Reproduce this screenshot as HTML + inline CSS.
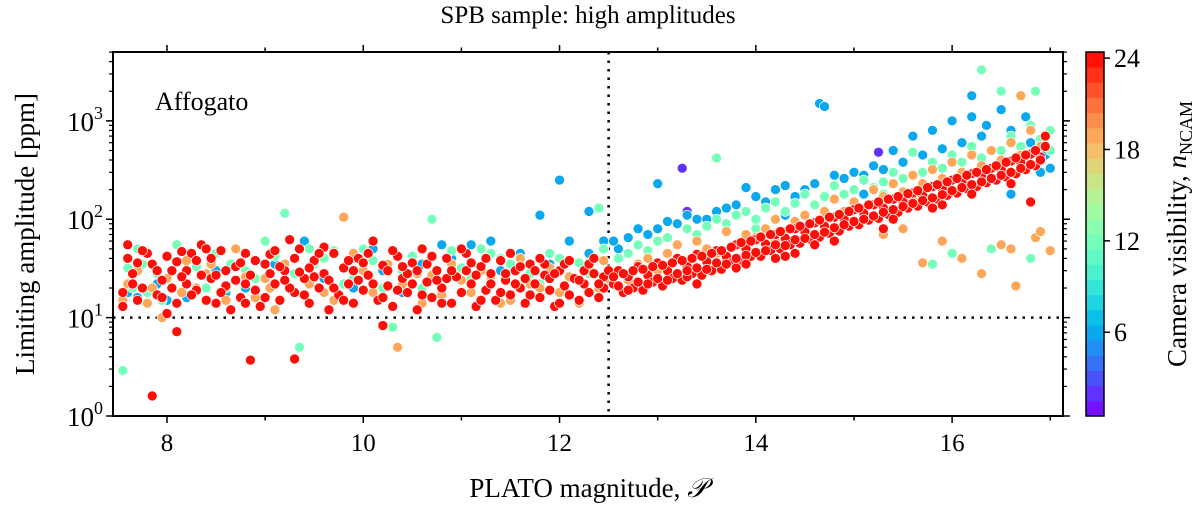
<!DOCTYPE html>
<html><head><meta charset="utf-8"><style>
html,body{margin:0;padding:0;background:#fff;}
svg{display:block;font-family:"Liberation Serif",serif;}
</style></head><body>
<svg id="chart" width="1200" height="511" viewBox="0 0 1200 511">
<text x="588" y="23" font-size="25" text-anchor="middle">SPB sample: high amplitudes</text>
<text x="588" y="497" font-size="27" text-anchor="middle">PLATO magnitude, <tspan font-style="italic">𝒫</tspan></text>
<text transform="translate(34,234) rotate(-90)" font-size="27" text-anchor="middle">Limiting amplitude [ppm]</text>
<text transform="translate(1186,234) rotate(-90)" font-size="27" text-anchor="middle">Camera visibility, <tspan font-style="italic">n</tspan><tspan font-size="18" dy="6">NCAM</tspan></text>
<text x="155" y="110" font-size="26">Affogato</text>
<g id="marks"></g>
<g id="axes"></g>
</svg>
<script>
const xTicks=[8,10,12,14,16];
const yTickExps=[0,1,2,3];
const cbTicks=[6,12,18,24];
const nCamLevels=[2,6,12,19,24];
const ptsPurple=[[13.25,330],[15.25,480],[13.3,120]];
const ptsBlue=[[7.7,16],[8.6,18],[9.4,60],[10.2,30],[10.8,55],[11.3,60],[11.8,110],[12.0,250],[12.3,120],[9.9,20],[8.0,15],
[12.6,50],[12.9,70],[13.0,230],[13.2,90],[13.5,100],[13.7,130],[13.9,210],[14.1,150],[14.4,170],[14.65,1500],[14.7,1400],[14.8,280],[15.0,300],[15.2,350],[15.4,500],[15.6,700],[15.8,800],[16.0,1000],[16.2,1800],[16.35,900],[16.5,1300],[16.75,1100],[16.9,300],[17.0,330],[16.6,180],[15.1,180],[14.3,110],
[7.6,18],[7.9,22],[8.2,16],[8.5,30],[8.8,20],[9.1,35],[9.3,18],[9.6,25],[9.9,40],[10.1,50],[10.4,18],[10.6,35],[10.9,40],[11.1,55],[11.4,30],[11.6,45],[11.9,35],[12.1,60],[12.3,45],[12.45,60],
[12.55,60],[12.7,65],[12.8,80],[13.0,80],[13.1,95],[13.3,110],[13.4,100],[13.6,120],[13.8,140],[14.0,170],[14.2,200],[14.3,220],[14.5,200],[14.6,230],[14.9,260],[15.1,280],[15.3,320],[15.5,380],[15.7,450],[15.9,520],[16.1,600],[16.3,700],[16.4,500],[16.6,800],[16.8,600],[16.95,450],[16.2,1100]];
const ptsGreen=[[7.55,2.9],[7.6,32],[7.7,50],[7.9,28],[8.1,55],[8.3,33],[8.5,45],[8.8,30],[9.0,60],[9.2,115],[9.35,5],[9.5,35],[9.7,48],[9.9,25],[10.1,38],[10.3,8],[10.5,42],[10.7,100],[10.75,6.3],[11.0,32],[11.2,50],[11.4,40],[11.7,28],[11.9,45],[12.2,36],[12.4,130],[7.8,18],[8.6,20],[10.2,20],
[12.7,45],[13.0,60],[13.3,80],[13.6,420],[13.6,100],[13.9,120],[14.2,150],[14.5,180],[14.8,220],[15.1,250],[15.4,300],[15.6,480],[15.8,380],[16.0,450],[16.2,550],[16.3,3300],[16.5,2000],[16.6,700],[16.8,900],[17.0,500],[16.4,50],[16.0,45],[15.8,35],[16.8,40],[14.0,80],[14.7,100],[15.3,180],
[7.65,20],[7.75,35],[7.95,15],[8.2,45],[8.4,20],[8.65,35],[8.9,25],[9.1,42],[9.3,28],[9.6,40],[9.8,22],[10.0,50],[10.4,30],[10.6,20],[10.9,48],[11.1,25],[11.3,45],[11.5,35],[11.8,22],[12.0,40],[12.3,28],[12.45,50],[10.85,40],[9.45,50],
[12.6,40],[12.8,55],[12.9,48],[13.1,65],[13.2,55],[13.4,70],[13.5,85],[13.7,90],[13.8,110],[14.0,100],[14.1,130],[14.3,120],[14.4,145],[14.6,140],[14.7,170],[14.9,180],[15.0,200],[15.2,210],[15.3,240],[15.5,260],[15.7,300],[15.9,330],[16.1,380],[16.3,420],[16.5,500],[16.7,550],[16.9,650],[17.0,800],[16.85,2000]];
const ptsOrange=[[7.6,22],[7.8,14],[7.95,10],[8.2,38],[8.4,28],[8.7,50],[8.9,16],[9.1,12],[9.3,40],[9.6,18],[9.8,105],[10.0,30],[10.35,5],[10.4,22],[10.6,14],[10.9,35],[11.1,18],[11.3,26],[11.6,40],[11.8,20],[12.1,26],[12.3,32],[12.45,38],[8.3,20],[9.0,25],[10.7,27],[11.5,15],
[12.6,30],[12.9,40],[13.2,55],[13.5,50],[13.7,75],[13.9,70],[14.2,100],[14.5,110],[14.8,160],[15.0,150],[15.2,200],[15.4,230],[15.6,280],[15.8,320],[16.0,380],[16.2,450],[16.4,500],[16.6,600],[16.8,800],[16.7,1800],[15.3,70],[15.5,80],[15.9,60],[16.1,40],[16.3,28],[16.5,55],[16.6,50],[16.65,21],[16.85,65],[17.0,48],[15.7,36],[16.9,75],
[7.55,15],[7.7,30],[7.85,20],[8.0,25],[8.15,18],[8.45,35],[8.6,15],[8.8,26],[9.05,20],[9.2,35],[9.45,22],[9.7,15],[9.9,45],[10.1,18],[10.25,35],[10.55,28],[10.8,17],[11.0,24],[11.2,30],[11.4,14],[11.7,22],[11.9,32],[12.0,18],[12.2,14],[12.4,20],[12.5,25],
[12.7,24],[12.8,35],[13.0,30],[13.1,45],[13.3,35],[13.4,60],[13.6,45],[13.8,55],[14.0,65],[14.1,80],[14.3,75],[14.4,95],[14.6,90],[14.7,120],[14.9,120],[15.1,130],[15.3,170],[15.5,190],[15.7,230],[15.9,260],[16.1,300],[16.3,350],[16.5,400],[16.7,450],[16.9,550],[16.0,200],[15.6,160],[14.2,60],[13.7,38]];
const ptsRed=[[7.55,18],[7.55,13],[7.6,55],[7.7,36],[7.75,20],[7.85,35],[7.9,17],[7.95,24],[8.0,11],[8.05,20],[8.1,37],[8.15,47],[8.2,30],[8.25,45],[8.3,19],[8.35,55],[8.4,15],[8.45,25],[8.5,14],[8.55,48],[8.6,21],[8.65,12],[8.7,33],[8.75,16],[8.8,22],[8.85,27],[8.9,19],[8.95,13],[9.0,35],[9.05,44],[9.1,22],[9.15,15],[9.2,30],[9.25,62],[9.3,18],[9.35,50],[9.4,25],[9.45,14],[9.5,38],[9.55,20],[9.6,28],[9.65,12],[9.7,45],[9.75,17],[9.8,32],[9.85,22],[9.9,14],[9.95,40],[10.0,19],[10.05,27],[10.1,60],[10.15,15],[10.2,34],[10.25,21],[10.3,13],[10.35,42],[10.4,25],[10.45,18],[10.5,36],[10.55,12],[10.6,50],[10.65,23],[10.7,16],[10.75,30],[10.8,20],[10.85,40],[10.9,14],[10.95,26],[11.0,18],[11.05,45],[11.1,22],[11.15,13],[11.2,33],[11.25,19],[11.3,28],[11.35,15],[11.4,38],[11.45,24],[11.5,17],[11.55,30],[11.6,20],[11.65,14],[11.7,35],[11.75,22],[11.8,16],[11.85,27],[11.9,19],[11.95,13],[12.0,30],[12.05,21],[12.1,17],[12.15,25],[12.2,15],[12.25,22],[12.3,18],[12.35,28],[12.4,16],[12.45,20],
[8.1,7.2],[7.85,1.6],[8.85,3.7],[9.3,3.8],[10.2,8.3],
[7.65,28],[7.8,45],[8.05,30],[8.25,17],[8.45,40],[8.6,30],[8.8,45],[9.05,28],[9.25,20],[9.45,32],[9.65,24],[9.85,38],[10.05,45],[10.25,30],[10.45,28],[10.65,35],[10.85,25],[11.05,30],[11.25,40],[11.45,28],[11.65,25],[11.85,35],[12.05,35],[12.25,30],[12.45,26],
[7.6,40],[7.7,15],[7.75,48],[7.9,30],[8.0,42],[8.1,14],[8.2,22],[8.3,38],[8.4,50],[8.5,27],[8.55,18],[8.7,24],[8.8,14],[8.9,38],[9.0,16],[9.1,48],[9.2,24],[9.3,40],[9.4,17],[9.5,26],[9.6,52],[9.7,20],[9.8,15],[9.9,30],[10.0,36],[10.1,22],[10.2,16],[10.3,48],[10.4,33],[10.5,22],[10.6,17],[10.7,42],[10.8,14],[10.9,30],[11.0,50],[11.1,36],[11.2,15],[11.3,22],[11.4,18],[11.5,45],[11.6,33],[11.7,17],[11.8,40],[11.9,25],[12.0,14],[12.1,38],[12.2,24],[12.3,35],[12.4,22],[12.5,30],[7.65,22],[7.95,16],[8.35,27],[8.75,36],[9.15,33],[9.55,45],[9.95,24],[10.35,19],[10.75,24],[11.15,27],[11.55,22],[11.95,28],[12.35,40],[8.15,26],[9.35,29],[10.55,30],[11.75,30],
[12.55,22],[12.6,30],[12.65,18],[12.7,26],[12.75,20],[12.8,33],[12.85,19],[12.9,27],[12.95,23],[13.0,36],[13.05,21],[13.1,30],[13.15,25],[13.2,40],[13.25,24],[13.3,33],[13.35,28],[13.4,44],[13.45,27],[13.5,37],[13.55,30],[13.6,48],[13.65,31],[13.7,42],[13.75,36],[13.8,55],[13.85,37],[13.9,50],[13.95,42],[14.0,62],[14.05,42],[14.1,56],[14.15,48],[14.2,70],[14.25,50],[14.3,64],[14.35,55],[14.4,80],[14.45,57],[14.5,75],[14.55,63],[14.6,92],[14.65,66],[14.7,85],[14.75,72],[14.8,105],[14.85,76],[14.9,100],[14.95,85],[15.0,125],[15.05,88],[15.1,115],[15.15,98],[15.2,140],[15.25,102],[15.3,130],[15.35,112],[15.4,160],[15.45,118],[15.5,150],[15.55,130],[15.6,185],[15.65,136],[15.7,175],[15.75,150],[15.8,215],[15.85,160],[15.9,205],[15.95,175],[16.0,250],[16.05,185],[16.1,240],[16.15,205],[16.2,290],[16.25,215],[16.3,275],[16.35,235],[16.4,330],[16.45,250],[16.5,320],[16.55,270],[16.6,390],[16.65,290],[16.7,380],[16.75,320],[16.8,460],[16.85,350],[16.9,430],[16.95,700],
[14.2,40],[14.6,55],[15.3,80],[15.9,140],[13.3,26],[13.8,32],[14.4,45],[16.8,150],
[12.55,26],[12.6,21],[12.65,28],[12.7,19],[12.75,30],[12.8,23],[12.85,31],[12.9,22],[12.95,33],[13.0,25],[13.05,34],[13.1,24],[13.15,36],[13.2,28],[13.25,38],[13.3,30],[13.35,40],[13.4,32],[13.45,42],[13.5,31],[13.55,45],[13.6,36],[13.65,48],[13.7,35],[13.75,52],[13.8,40],[13.85,58],[13.9,43],[13.95,60],[14.0,46],[14.05,66],[14.1,48],[14.15,70],[14.2,55],[14.25,75],[14.3,54],[14.35,80],[14.4,62],[14.45,85],[14.5,64],[14.55,90],[14.6,70],[14.65,98],[14.7,74],[14.75,105],[14.8,82],[14.85,112],[14.9,88],[14.95,120],[15.0,95],[15.05,130],[15.1,100],[15.15,140],[15.2,108],[15.25,150],[15.3,118],[15.35,160],[15.4,125],[15.45,170],[15.5,135],[15.55,182],[15.6,145],[15.65,195],[15.7,155],[15.75,210],[15.8,165],[15.85,225],[15.9,178],[15.95,240],[16.0,195],[16.05,260],[16.1,210],[16.15,280],[16.2,225],[16.25,300],[16.3,240],[16.35,320],[16.4,260],[16.45,350],[16.5,280],[16.55,380],[16.6,300],[16.65,420],[16.7,330],[16.75,450],[16.8,360],[16.85,500],[16.9,400],[16.95,550],
[13.4,22],[13.9,35],[14.3,42],[14.8,60],[15.4,100],[15.8,130],[16.2,180],[16.6,230]];
const seriesPts=[ptsPurple,ptsBlue,ptsGreen,ptsOrange,ptsRed];

const L=113,R=1063,T=52,B=416;
const xMin=7.45,xMax=17.13,yMin=0,yMax=3.70;
const cMin=0.5,cMax=24.4;
const sx=m=>L+(m-xMin)/(xMax-xMin)*(R-L);
const sy=a=>B-(Math.log10(a)-yMin)/(yMax-yMin)*(B-T);
const CBL=1086,CBR=1104,CBT=52,CBB=416;
const sc=v=>CBB-(v-cMin)/(cMax-cMin)*(CBB-CBT);
function rainbow(v){const x=Math.max(0,Math.min(1,(v-cMin)/(cMax-cMin)));
 const r=Math.min(1,Math.abs(2*x-0.5)),g=Math.sin(Math.PI*x),b=Math.cos(Math.PI*x/2);
 return `rgb(${Math.round(r*255)},${Math.round(g*255)},${Math.round(b*255)})`;}
const NS="http://www.w3.org/2000/svg";
function mk(tag,attrs,parent){const e=document.createElementNS(NS,tag);for(const k in attrs)e.setAttribute(k,attrs[k]);parent.appendChild(e);return e;}
const marks=document.getElementById('marks'),axes=document.getElementById('axes');
let ref=mk('line',{x1:L,x2:R,y1:sy(10),y2:sy(10),stroke:'#000','stroke-width':2.5,'stroke-dasharray':'2.5 6'},marks);


ref=mk('line',{x1:sx(12.5),x2:sx(12.5),y1:T,y2:B,stroke:'#000','stroke-width':2.5,'stroke-dasharray':'2.5 6'},marks);


seriesPts.forEach((pts,i)=>{const col=rainbow(nCamLevels[i]);
 pts.forEach(p=>{const c=mk('circle',{cx:sx(p[0]),cy:sy(p[1]),r:5,fill:col,stroke:'#fff','stroke-width':0.7},marks);
  
  });});
const fr=mk('rect',{x:L,y:T,width:R-L,height:B-T,fill:'none',stroke:'#000','stroke-width':2},axes);


for(let m=8;m<=17;m++){const maj=xTicks.includes(m),len=maj?7:4.5,x=sx(m);
 mk('line',{x1:x,x2:x,y1:B,y2:B+len,stroke:'#000','stroke-width':1.5},axes);
 mk('line',{x1:x,x2:x,y1:T,y2:T-len,stroke:'#000','stroke-width':1.5},axes);
 if(maj){const t=mk('text',{x:x,y:B+35,'font-size':25,'text-anchor':'middle'},axes);t.textContent=m;
  
  }}
yTickExps.forEach(e=>{const y=sy(Math.pow(10,e));
 mk('line',{x1:L,x2:L-7,y1:y,y2:y,stroke:'#000','stroke-width':1.5},axes);
 mk('line',{x1:R,x2:R+7,y1:y,y2:y,stroke:'#000','stroke-width':1.5},axes);
 const t=mk('text',{x:L-10,y:y+10,'font-size':27,'text-anchor':'end'},axes);
 t.innerHTML='10<tspan font-size="18" dy="-12">'+e+'</tspan>';
 
 
 for(let k=2;k<=9;k++){const v=Math.pow(10,e)*k;if(Math.log10(v)>yMax)break;const yy=sy(v);
  mk('line',{x1:L,x2:L-4,y1:yy,y2:yy,stroke:'#000','stroke-width':1.2},axes);
  mk('line',{x1:R,x2:R+4,y1:yy,y2:yy,stroke:'#000','stroke-width':1.2},axes);}});
const cb=mk('g',{},axes);


const nb=24,step=(cMax-cMin)/nb;
for(let i=0;i<nb;i++){const v0=cMin+i*step,v1=v0+step;
 mk('rect',{x:CBL,y:sc(v1),width:CBR-CBL,height:sc(v0)-sc(v1)+0.5,fill:rainbow(v0+step/2)},cb);}
mk('rect',{x:CBL,y:CBT,width:CBR-CBL,height:CBB-CBT,fill:'none',stroke:'#000','stroke-width':1.5},cb);
cbTicks.forEach(v=>{const y=sc(v);mk('line',{x1:CBR,x2:CBR+6,y1:y,y2:y,stroke:'#000','stroke-width':1.5},cb);
 const t=mk('text',{x:CBR+10,y:y+9,'font-size':26},cb);t.textContent=v;
 
 });
</script>
</body></html>
